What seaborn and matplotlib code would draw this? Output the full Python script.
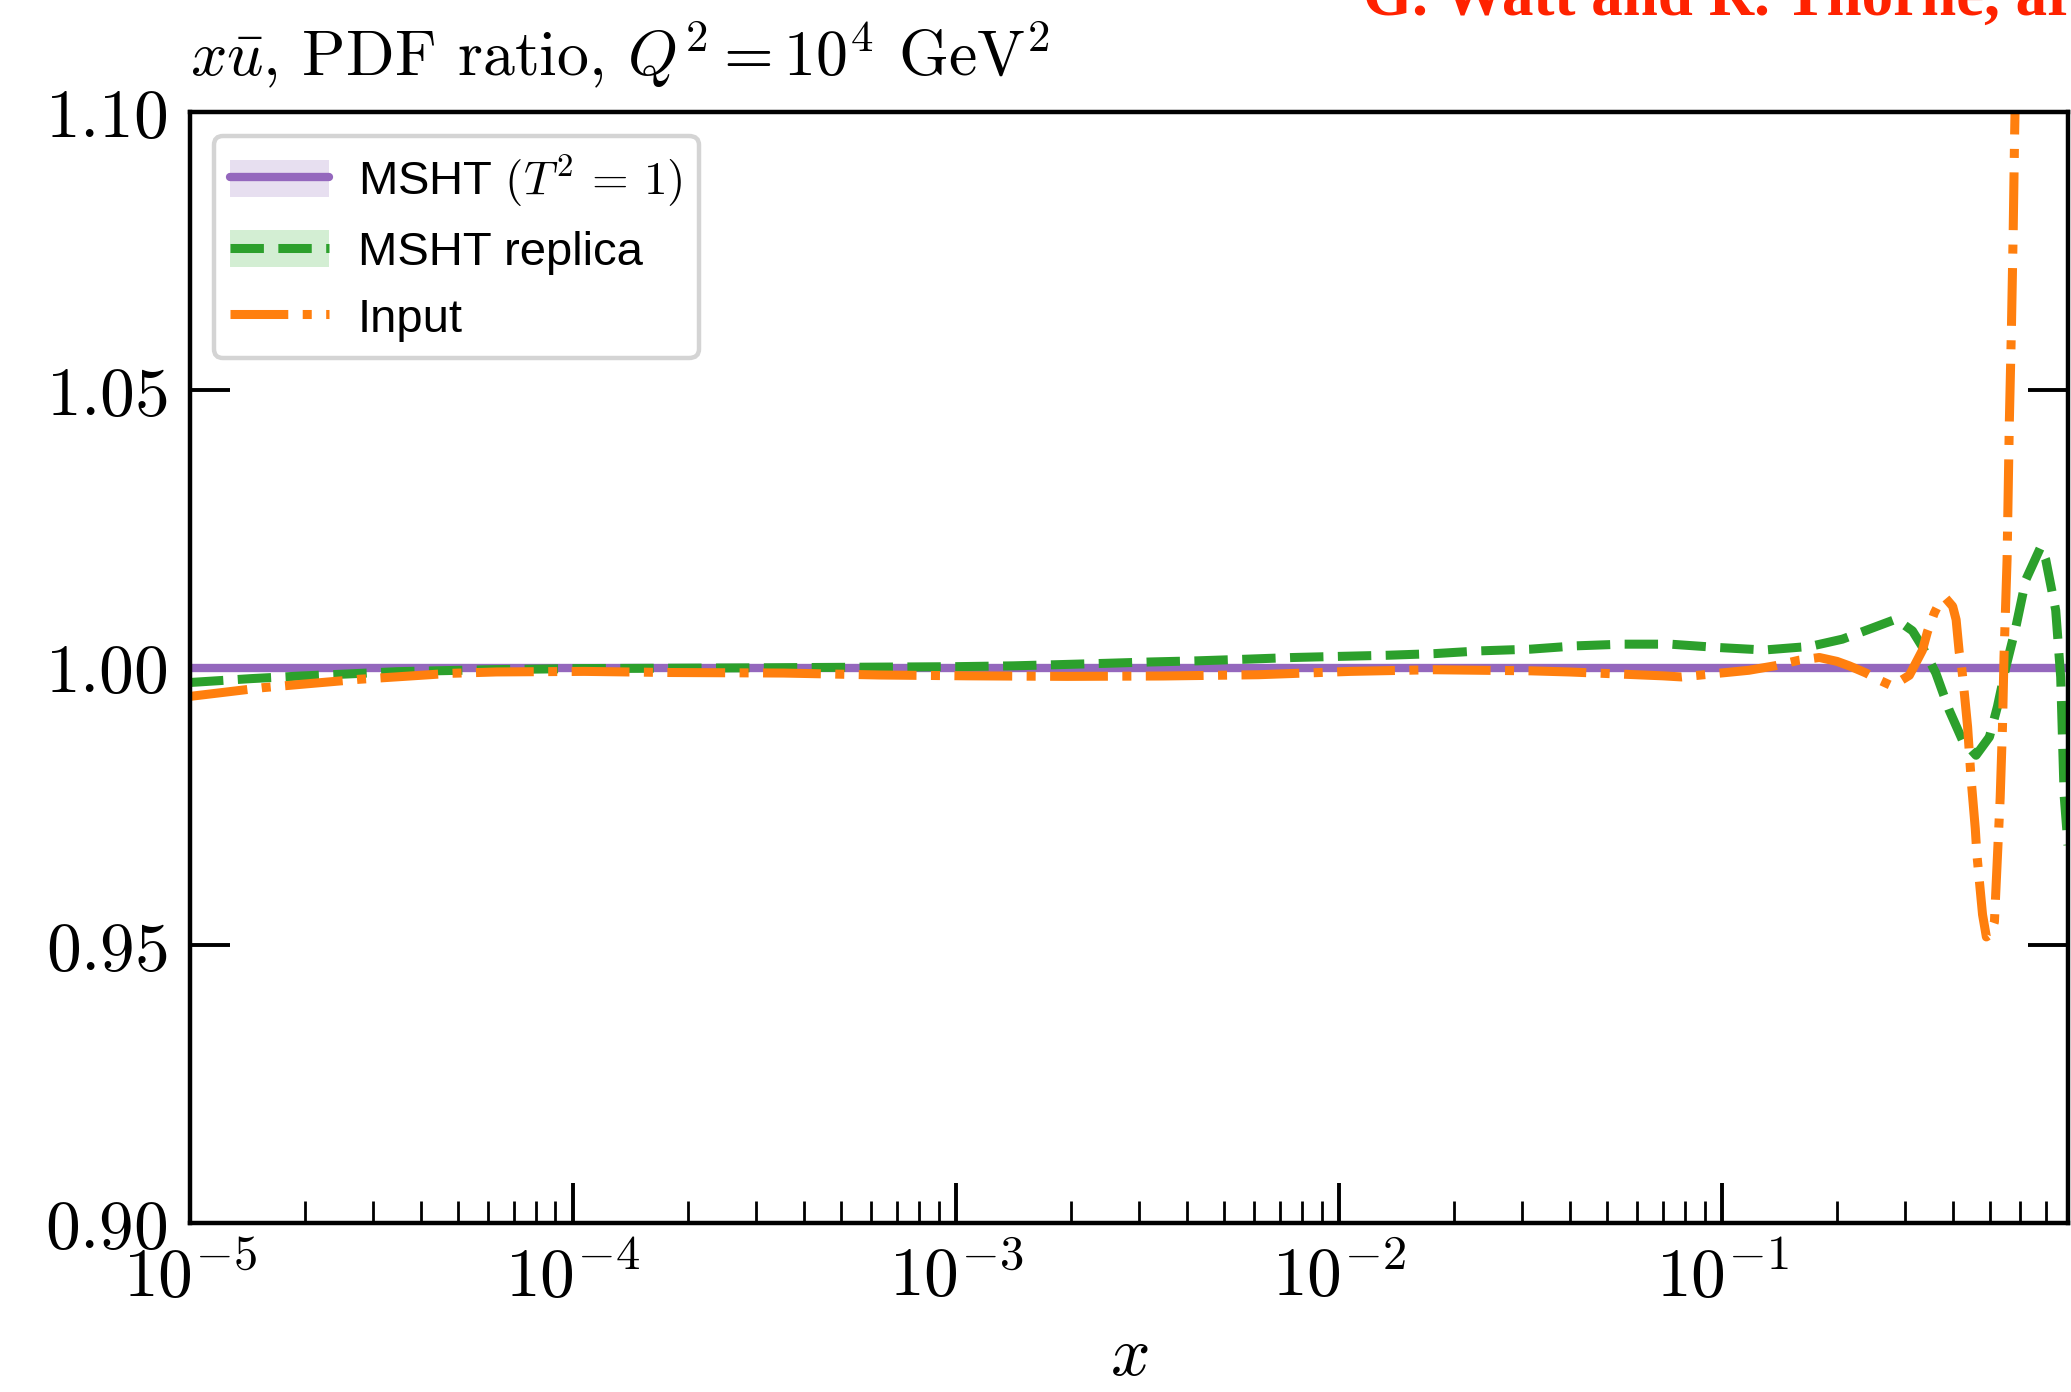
import numpy as np
import matplotlib
matplotlib.use("Agg")
import matplotlib.pyplot as plt
import seaborn as sns
from matplotlib.lines import Line2D
from matplotlib.patches import Patch
from matplotlib.ticker import FixedLocator, FuncFormatter, LogLocator, NullFormatter, NullLocator

# PDF ratios to the MSHT central set, x-ubar at Q^2 = 10^4 GeV^2
central_x = [1e-5, 0.8]
central_ratio = [1.0, 1.0]

replica_log10x = [-5.00, -4.84, -4.71, -4.59, -4.46, -4.34, -4.22, -4.00, -3.50, -3.00,
                  -2.85, -2.74, -2.61, -2.49, -2.37, -2.24, -2.12, -2.00, -1.875, -1.75,
                  -1.63, -1.50, -1.38, -1.26, -1.135, -1.01, -0.89, -0.77, -0.686, -0.608,
                  -0.546, -0.503, -0.477, -0.442, -0.407, -0.373, -0.337, -0.302, -0.281,
                  -0.259, -0.233, -0.207, -0.168, -0.155, -0.129, -0.116, -0.107, -0.097]
replica_ratio = [0.9973, 0.9980, 0.99847, 0.99883, 0.99925, 0.99943, 0.9996, 0.9998, 0.99995, 1.00015,
                 1.0003, 1.0005, 1.00075, 1.0010, 1.0012, 1.0015, 1.0018, 1.0020, 1.0022, 1.0025,
                 1.0030, 1.0033, 1.0039, 1.0042, 1.0042, 1.0036, 1.00315, 1.0038, 1.0051, 1.0071,
                 1.0087, 1.0066, 1.0037, 0.9990, 0.9923, 0.9870, 0.9842, 0.9875, 0.9930,
                 1.0001, 1.0073, 1.0158, 1.0217, 1.0194, 1.0103, 0.9983, 0.9770, 0.9680]

input_log10x = [-5.00, -4.81, -4.68, -4.56, -4.43, -4.32, -4.20, -3.97, -3.75, -3.45,
                -3.20, -2.97, -2.71, -2.46, -2.21, -1.97, -1.755, -1.50, -1.40, -1.155,
                -1.106, -0.93, -0.863, -0.80, -0.746, -0.70, -0.668, -0.624, -0.590, -0.556,
                -0.511, -0.477, -0.464, -0.446, -0.430, -0.416, -0.398, -0.389, -0.381, -0.376,
                -0.367, -0.359, -0.350, -0.339, -0.335, -0.320, -0.310, -0.300, -0.289, -0.280,
                -0.274, -0.268, -0.264, -0.256, -0.250, -0.2445, -0.240, -0.2365, -0.22, -0.18, -0.10]
input_ratio = [0.9948, 0.99637, 0.99715, 0.99787, 0.99845, 0.99895, 0.9992, 0.9993, 0.9991, 0.9990,
               0.99865, 0.9985, 0.9984, 0.99847, 0.9987, 0.9993, 0.9996, 0.9994, 0.9992, 0.9985,
               0.9983, 0.9995, 1.0003, 1.0013, 1.0018, 1.0011, 1.0003, 0.9990, 0.99775, 0.99667,
               0.9986, 1.0031, 1.0064, 1.0098, 1.0120, 1.01245, 1.0110, 1.0086, 1.0028, 1.0010,
               0.9950, 0.9893, 0.9800, 0.9710, 0.9665, 0.9555, 0.9515, 0.9520, 0.9542, 0.9677,
               0.9765, 0.9893, 1.0019, 1.0194, 1.0444, 1.0615, 1.0786, 1.0950, 1.16, 1.30, 1.60]

x_ticks = [1e-5, 1e-4, 1e-3, 1e-2, 1e-1]
y_ticks = [0.90, 0.95, 1.00, 1.05, 1.10]
y_tick_labels = ["0.90", "0.95", "1.00", "1.05", "1.10"]
series_labels = [r"MSHT $(T^2\,=\,1)$", "MSHT replica", "Input"]

purple, green, orange = "#9467bd", "#2ca02c", "#ff7f0e"

sns.set_theme(style="white")
plt.rcParams["mathtext.fontset"] = "cm"
plt.rcParams["axes.unicode_minus"] = False
plt.rcParams["font.family"] = ["Liberation Sans", "DejaVu Sans"]
plt.rcParams["text.color"] = "black"

W, H, DPI = 2071, 1392, 200
fig = plt.figure(figsize=(W / DPI, H / DPI), dpi=DPI)
ax = fig.add_axes([190 / W, 1 - 1223 / H, (2068 - 190) / W, (1223 - 112) / H])

sns.lineplot(x=central_x, y=central_ratio, ax=ax, color=purple, lw=3.0, legend=False)
sns.lineplot(x=np.power(10.0, replica_log10x), y=replica_ratio, ax=ax, color=green,
             lw=3.25, linestyle="--", legend=False)
sns.lineplot(x=np.power(10.0, input_log10x), y=input_ratio, ax=ax, color=orange,
             lw=3.25, linestyle="-.", legend=False)

ax.set_xscale("log")
ax.set_xlim(1e-5, 0.8)
ax.set_ylim(0.90, 1.10)

ax.xaxis.set_major_locator(FixedLocator(x_ticks))
ax.xaxis.set_major_formatter(FuncFormatter(lambda v, p: r"$10^{%d}$" % round(np.log10(v))))
ax.xaxis.set_minor_locator(LogLocator(base=10, subs=np.arange(2, 10), numticks=30))
ax.xaxis.set_minor_formatter(NullFormatter())
ax.yaxis.set_major_locator(FixedLocator(y_ticks))
ax.set_yticklabels([r"$%s$" % s for s in y_tick_labels])
ax.yaxis.set_minor_locator(NullLocator())

ax.tick_params(axis="both", which="major", direction="in", length=14.4, width=1.4,
               labelsize=25, pad=8, colors="black")
ax.tick_params(axis="x", which="both", bottom=True, top=False)
ax.tick_params(axis="x", which="minor", direction="in", length=8, width=1.0, color="black")
ax.tick_params(axis="y", which="major", left=True, right=True)

for sp in ax.spines.values():
    sp.set_visible(True)
    sp.set_color("black")
    sp.set_linewidth(1.6)

ax.set_xlabel(r"$x$", fontsize=25, labelpad=5, color="black")
ax.set_title(r"$x\bar{u}$, PDF ratio, $Q^2 = 10^4$ GeV$^2$", loc="left", pad=13,
             fontsize=23, family="cmr10", color="black")

handles = [
    (Patch(facecolor="#e7dff0", edgecolor="none"), Line2D([], [], color=purple, lw=3.0)),
    (Patch(facecolor="#d3eed3", edgecolor="none"), Line2D([], [], color=green, lw=3.25, ls="--")),
    Line2D([], [], color=orange, lw=3.25, ls="-."),
]
leg = ax.legend(handles, series_labels, loc="upper left", fontsize=17,
                handlelength=2.1, handleheight=0.83, handletextpad=0.6,
                borderaxespad=0.5, labelspacing=0.46, borderpad=0.35,
                frameon=True, fancybox=True, framealpha=1, edgecolor="0.83",
                labelcolor="black")
leg.get_frame().set_linewidth(1.6)

fig.text(1363 / W, 1 - 15 / H, "G. Watt and R. Thorne, arXiv:1205.4024",
         ha="left", va="baseline", fontsize=22.7, fontweight="bold",
         family="Liberation Serif", color="#ff2200")

fig.savefig("out.png", dpi=DPI)
